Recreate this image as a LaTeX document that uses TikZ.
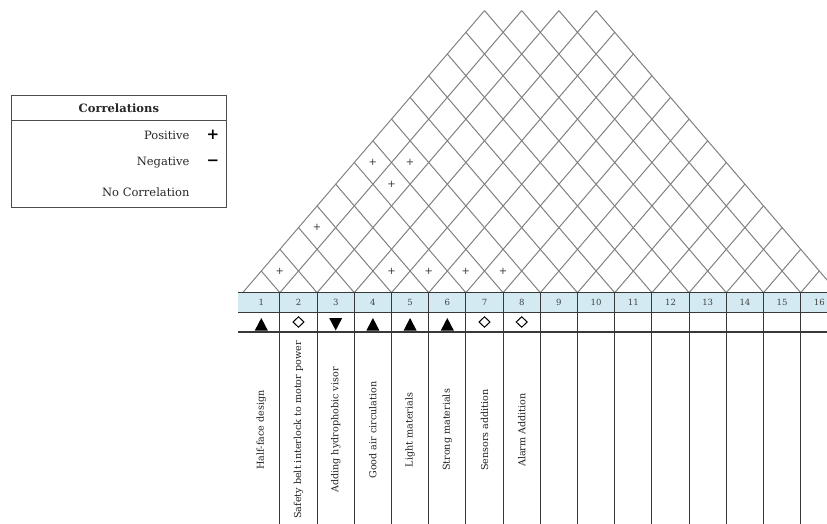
\documentclass[tikz,border=0pt]{standalone}
\usepackage{fontspec}
\setmainfont{DejaVu Serif}
\definecolor{hdrblue}{RGB}{212,234,242}
\begin{document}
\begin{tikzpicture}[x=1pt,y=-1pt,
  roof/.style={draw=black!50, line width=1pt},
  grid/.style={draw=black!78, line width=1.1pt},
  hdr/.style={fill=hdrblue},
  numtxt/.style={font=\fontsize{8.5}{9}\selectfont, text=black!75},
  coltxt/.style={rotate=90, font=\fontsize{9.6}{10}\selectfont, text=black!88},
  plustxt/.style={font=\fontsize{10}{10}\selectfont, text=black!80, inner sep=0pt},
  legtxt/.style={font=\fontsize{11.5}{12}\selectfont, anchor=east, text=black!85},
  legsym/.style={font=\fontsize{15}{15}\selectfont\bfseries, inner sep=0pt},
  symfill/.style={fill=black},
  symopen/.style={draw=black, line width=1pt, fill=white}
]
\useasboundingbox (0,0) rectangle (827,524);
\clip (0,0) rectangle (827,524);
\def\xo{242.7}
\def\yo{292.7}
\def\hu{18.6}
\def\lh{21.7}
\def\cw{37.2}
% roof lattice
\foreach \i in {0,...,15}{
  \pgfmathsetmacro\L{min(13,16-\i)}
  \draw[roof] (\xo+2*\i*\hu, \yo) -- (\xo+2*\i*\hu+\L*\hu, \yo-\L*\lh);
}
\foreach \j in {1,...,16}{
  \pgfmathsetmacro\L{min(13,\j)}
  \draw[roof] (\xo+2*\j*\hu, \yo) -- (\xo+2*\j*\hu-\L*\hu, \yo-\L*\lh);
}
% correlation pluses
\foreach \X/\Lv [count=\k] in {2/1,4/3,7/6,9/6,8/5,8/1,10/1,12/1,14/1}{
  \node[plustxt] (p\k) at (\xo+\X*\hu, \yo-\Lv*\lh) {+};
}
% header row
\fill[hdr] (238,292.7) rectangle (842,312.3);
\foreach \yy in {292.7,312.3,332}{
  \draw[grid] (238,\yy) -- (842,\yy);
}
\foreach \i in {1,...,16}{
  \draw[grid] (\xo+\i*\cw,292.7) -- (\xo+\i*\cw,530);
}
\foreach \i in {1,...,16}{
  \node[numtxt] (n\i) at (\xo+\i*\cw-0.5*\cw, 302.5) {\i};
}
% direction symbols
\foreach \c in {1,4,5,6}{
  \path[symfill] (\xo+\c*\cw-0.5*\cw-6.5, 330.5) -- (\xo+\c*\cw-0.5*\cw+6.5, 330.5) -- (\xo+\c*\cw-0.5*\cw, 318) -- cycle;
}
\path[symfill] (\xo+3*\cw-0.5*\cw-6.5, 318) -- (\xo+3*\cw-0.5*\cw+6.5, 318) -- (\xo+3*\cw-0.5*\cw, 330.5) -- cycle;
\foreach \c in {2,7,8}{
  \draw[symopen] (\xo+\c*\cw-0.5*\cw-5.5, 322) -- (\xo+\c*\cw-0.5*\cw, 316.8) -- (\xo+\c*\cw-0.5*\cw+5.5, 322) -- (\xo+\c*\cw-0.5*\cw, 327.2) -- cycle;
}
% column texts
\foreach \c/\t in {1/Half-face design,2/Safety belt interlock to motor power,3/Adding hydrophobic visor,4/Good air circulation,5/Light materials,6/Strong materials,7/Sensors addition,8/Alarm Addition}{
  \node[coltxt] (t\c) at (\xo+\c*\cw-0.5*\cw, 430) {\t};
}
% legend
\draw[draw=black!70, line width=1pt] (11.7,96) rectangle (226,207);
\draw[draw=black!70, line width=1pt] (11.7,121) -- (226,121);
\node[font=\fontsize{11.5}{12}\selectfont\bfseries, text=black!85] (lt) at (118.85,108.5) {Correlations};
\node[legtxt] (lp) at (193,135) {Positive};
\node[legtxt] (ln) at (193,163) {Negative};
\node[legtxt] (lnc) at (193,192) {No Correlation};
\node[legsym] (sp) at (213,135) {+};
\node[legsym] (sn) at (213,163) {−};
\end{tikzpicture}
\end{document}
